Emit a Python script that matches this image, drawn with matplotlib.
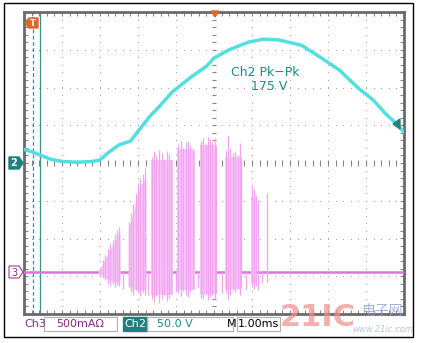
import numpy as np
import matplotlib.pyplot as plt
from matplotlib.patches import Polygon, Rectangle

# scope settings
t_div = 1.0      # ms/div
ch2_scale = 50.0  # V/div
ch3_scale = 0.5   # A/div
ch3_off = -2.89   # div, channel 3 ground marker

# Ch2 mains voltage (ms, V)
ch2_t = [0.0, 0.2, 0.4, 0.7, 1.0, 1.4, 1.8, 2.0, 2.2, 2.5, 2.8, 3.0, 3.3, 3.6, 3.9,
         4.4, 4.8, 5.0, 5.4, 5.9, 6.3, 6.7, 7.3, 7.8, 8.3, 8.8, 9.2, 9.5, 9.8, 10.0]
ch2_v = [18, 15, 11, 5, 2, 1, 2, 4, 13, 24, 29, 42, 61, 77, 94,
         114, 128, 139, 150, 160, 164, 163, 156, 140, 123, 99, 83, 66, 52, 41]

# Ch3 current bursts: envelope (ms, A top, A bottom)
bursts = [
    ([1.95, 2.05, 2.16, 2.26, 2.37, 2.47, 2.53],
     [0.02, 0.09, 0.20, 0.30, 0.38, 0.50, 0.52],
     [-0.02, -0.05, -0.08, -0.11, -0.13, -0.13, -0.12]),
    ([2.74, 2.87, 2.97, 3.08, 3.21],
     [0.58, 0.76, 1.02, 1.16, 1.25],
     [-0.18, -0.22, -0.24, -0.24, -0.23]),
    ([3.34, 3.92], [1.48, 1.48], [-0.30, -0.30]),
    ([4.03, 4.50], [1.63, 1.63], [-0.24, -0.24]),
    ([4.63, 5.08], [1.68, 1.68], [-0.29, -0.29]),
    ([5.29, 5.74], [1.52, 1.52], [-0.22, -0.22]),
    ([5.97, 6.13], [1.00, 1.00], [-0.16, -0.16]),
]
# individual spikes (ms, A top, A bottom)
spike_t = [2.00, 2.08, 2.14, 2.20, 2.27, 2.33, 2.40, 2.45, 2.50,
           2.76, 2.82, 2.88, 2.94, 3.00, 3.06, 3.12, 3.18,
           3.36, 3.42, 3.48, 3.55, 3.62, 3.68, 3.75, 3.82, 3.88,
           4.05, 4.12, 4.18, 4.25, 4.32, 4.38, 4.45,
           4.65, 4.72, 4.78, 4.84, 4.90, 4.96, 5.02, 5.06,
           5.31, 5.37, 5.43, 5.49, 5.56, 5.62, 5.68, 5.72,
           6.00, 6.05, 6.10, 6.16, 6.39,
           2.60, 3.27, 4.00, 4.57, 5.20, 5.85, 6.25]
spike_hi = [0.07, 0.16, 0.22, 0.30, 0.38, 0.42, 0.50, 0.56, 0.60,
            0.66, 0.78, 0.90, 1.05, 1.18, 1.25, 1.30, 1.38,
            1.52, 1.60, 1.55, 1.62, 1.58, 1.50, 1.60, 1.56, 1.48,
            1.70, 1.74, 1.65, 1.72, 1.74, 1.68, 1.60,
            1.74, 1.78, 1.70, 1.79, 1.76, 1.72, 1.78, 1.66,
            1.62, 1.82, 1.65, 1.58, 1.60, 1.55, 1.71, 1.50,
            1.15, 1.10, 1.02, 0.95, 1.05,
            0.0, 0.0, 0.0, 0.0, 0.0, 0.0, 0.0]
spike_lo = [-0.04, -0.08, -0.10, -0.14, -0.18, -0.16, -0.20, -0.17, -0.19,
            -0.20, -0.26, -0.30, -0.24, -0.28, -0.32, -0.26, -0.30,
            -0.35, -0.40, -0.32, -0.41, -0.36, -0.30, -0.38, -0.34, -0.28,
            -0.28, -0.32, -0.25, -0.30, -0.33, -0.26, -0.22,
            -0.34, -0.36, -0.30, -0.37, -0.33, -0.30, -0.35, -0.28,
            -0.28, -0.37, -0.30, -0.24, -0.26, -0.22, -0.30, -0.20,
            -0.20, -0.22, -0.18, -0.24, -0.13,
            -0.22, -0.30, -0.25, -0.20, -0.28, -0.22, -0.15]

W, H = 421, 343
fig = plt.figure(figsize=(W / 100, H / 100), dpi=100)
fig.patch.set_facecolor('white')

gl, gr, gt, gb = 24, 404, 12, 314
ax = fig.add_axes([gl / W, 1 - gb / H, (gr - gl) / W, (gb - gt) / H])
ax.set_xlim(0, 10)
ax.set_ylim(-4, 4)
ax.set_xticks([])
ax.set_yticks([])
for s in ax.spines.values():
    s.set_color('#6a6a6a')
    s.set_linewidth(2)

# graticule dots
gc = '#a8a8a8'
sub = np.arange(-4, 4.01, 0.2)
subx = np.arange(0, 10.01, 0.2)
for gx in range(1, 10):
    ax.plot([gx] * len(sub), sub, ls='', marker='s', ms=0.8, color=gc, mew=0)
for gy in range(-3, 4):
    ax.plot(subx, [gy] * len(subx), ls='', marker='s', ms=0.8, color=gc, mew=0)
# center line ticks
ax.vlines(subx, -0.08, 0.08, color='#858585', lw=0.8)
ax.hlines(sub, 4.94, 5.06, color='#858585', lw=0.8)
# edge ticks
ax.vlines(subx, 3.9, 4, color='#858585', lw=0.8)
ax.vlines(subx, -4, -3.9, color='#858585', lw=0.8)
ax.hlines(sub, 0, 0.1, color='#858585', lw=0.8)
ax.hlines(sub, 9.9, 10, color='#858585', lw=0.8)

# cursors
ax.axvline(0.24 / t_div, color='#3a8f8f', lw=0.9, ls=(0, (3, 2)))
ax.axvline(0.42 / t_div, color='#3a8f8f', lw=0.9)

# Ch3 current
ax.plot([0, 10], [ch3_off, ch3_off], color='#e070e0', lw=1.8, zorder=3)
for bt, bh, bl in bursts:
    ax.fill_between(np.array(bt) / t_div, np.array(bl) / ch3_scale + ch3_off,
                    np.array(bh) / ch3_scale + ch3_off, color='#f6c4f6', lw=0, zorder=4)
ax.vlines(np.array(spike_t) / t_div, np.array(spike_lo) / ch3_scale + ch3_off,
          np.array(spike_hi) / ch3_scale + ch3_off, color='#f0a6f0', lw=0.9, zorder=5)

# Ch2 voltage
ax.plot(np.array(ch2_t) / t_div, np.array(ch2_v) / ch2_scale, color='#55dede',
        lw=2.5, zorder=6, solid_capstyle='round')

ax.text(6.35, 2.4, 'Ch2 Pk\u2212Pk', color='#208a8a', fontsize=9, ha='center', va='center')
ax.text(6.45, 2.02, '175 V', color='#208a8a', fontsize=9, ha='center', va='center')

# overlay in pixel coordinates
ov = fig.add_axes([0, 0, 1, 1], zorder=10)
ov.set_xlim(0, W)
ov.set_ylim(H, 0)
ov.axis('off')
ov.patch.set_alpha(0)

ov.add_patch(Rectangle((4, 3), 409, 334, fill=False, ec='black', lw=1))

# trigger markers
ov.add_patch(Polygon([[25, 23], [29, 18], [38, 18], [38, 28], [29, 28]], color='#e0662a'))
ov.text(33, 23.5, 'T', color='white', fontsize=6, fontweight='bold', ha='center', va='center')
ov.add_patch(Polygon([[211, 11], [219, 11], [215, 17]], color='#e0662a'))
ov.add_patch(Polygon([[393, 124], [400, 119], [400, 129]], color='#2a8080'))

# channel markers
ov.add_patch(Polygon([[9, 157], [19, 157], [23, 163], [19, 169], [9, 169]], color='#1f7f7f'))
ov.text(14, 163.5, '2', color='white', fontsize=7, fontweight='bold', ha='center', va='center')
ov.add_patch(Polygon([[9, 266], [19, 266], [23, 272], [19, 278], [9, 278]],
                     fc='white', ec='#a040a0', lw=0.8))
ov.text(14, 272.5, '3', color='#903090', fontsize=7, ha='center', va='center')

# bottom readouts
fs = 8
ov.text(24, 324, 'Ch3', color='#8a2a8a', fontsize=fs, va='center')
ov.add_patch(Rectangle((44, 317), 73, 14, fill=False, ec='#b0b0b0', lw=0.8))
ov.text(80, 324, '500mA\u03a9', color='#8a2a8a', fontsize=fs, ha='center', va='center')
ov.add_patch(Rectangle((123, 317), 24, 14, color='#1f7f7f'))
ov.text(135, 324, 'Ch2', color='white', fontsize=fs, ha='center', va='center')
ov.add_patch(Rectangle((147, 317), 86, 14, fill=False, ec='#b0b0b0', lw=0.8))
ov.text(157, 324, '50.0 V', color='#208a8a', fontsize=fs, va='center')
ov.text(236, 324, 'M', color='black', fontsize=fs, ha='right', va='center')
ov.add_patch(Rectangle((237, 317), 43, 14, fill=False, ec='#b0b0b0', lw=0.8))
ov.text(258.5, 324, '1.00ms', color='black', fontsize=fs, ha='center', va='center')

# watermark
ov.text(318, 318, '21IC', color='#ee8c8c', alpha=0.7, fontsize=22, fontweight='bold',
        ha='center', va='center')
ov.text(382, 311, '电子网', color='#8f9fd8', alpha=0.8, fontsize=10,
        family=['Noto Sans CJK SC', 'DejaVu Sans'], ha='center', va='center')
ov.text(383, 330, 'www.21ic.com', color='#9fa8d0', alpha=0.7, fontsize=6, style='italic',
        ha='center', va='center')

fig.savefig('out.png', dpi=100)
